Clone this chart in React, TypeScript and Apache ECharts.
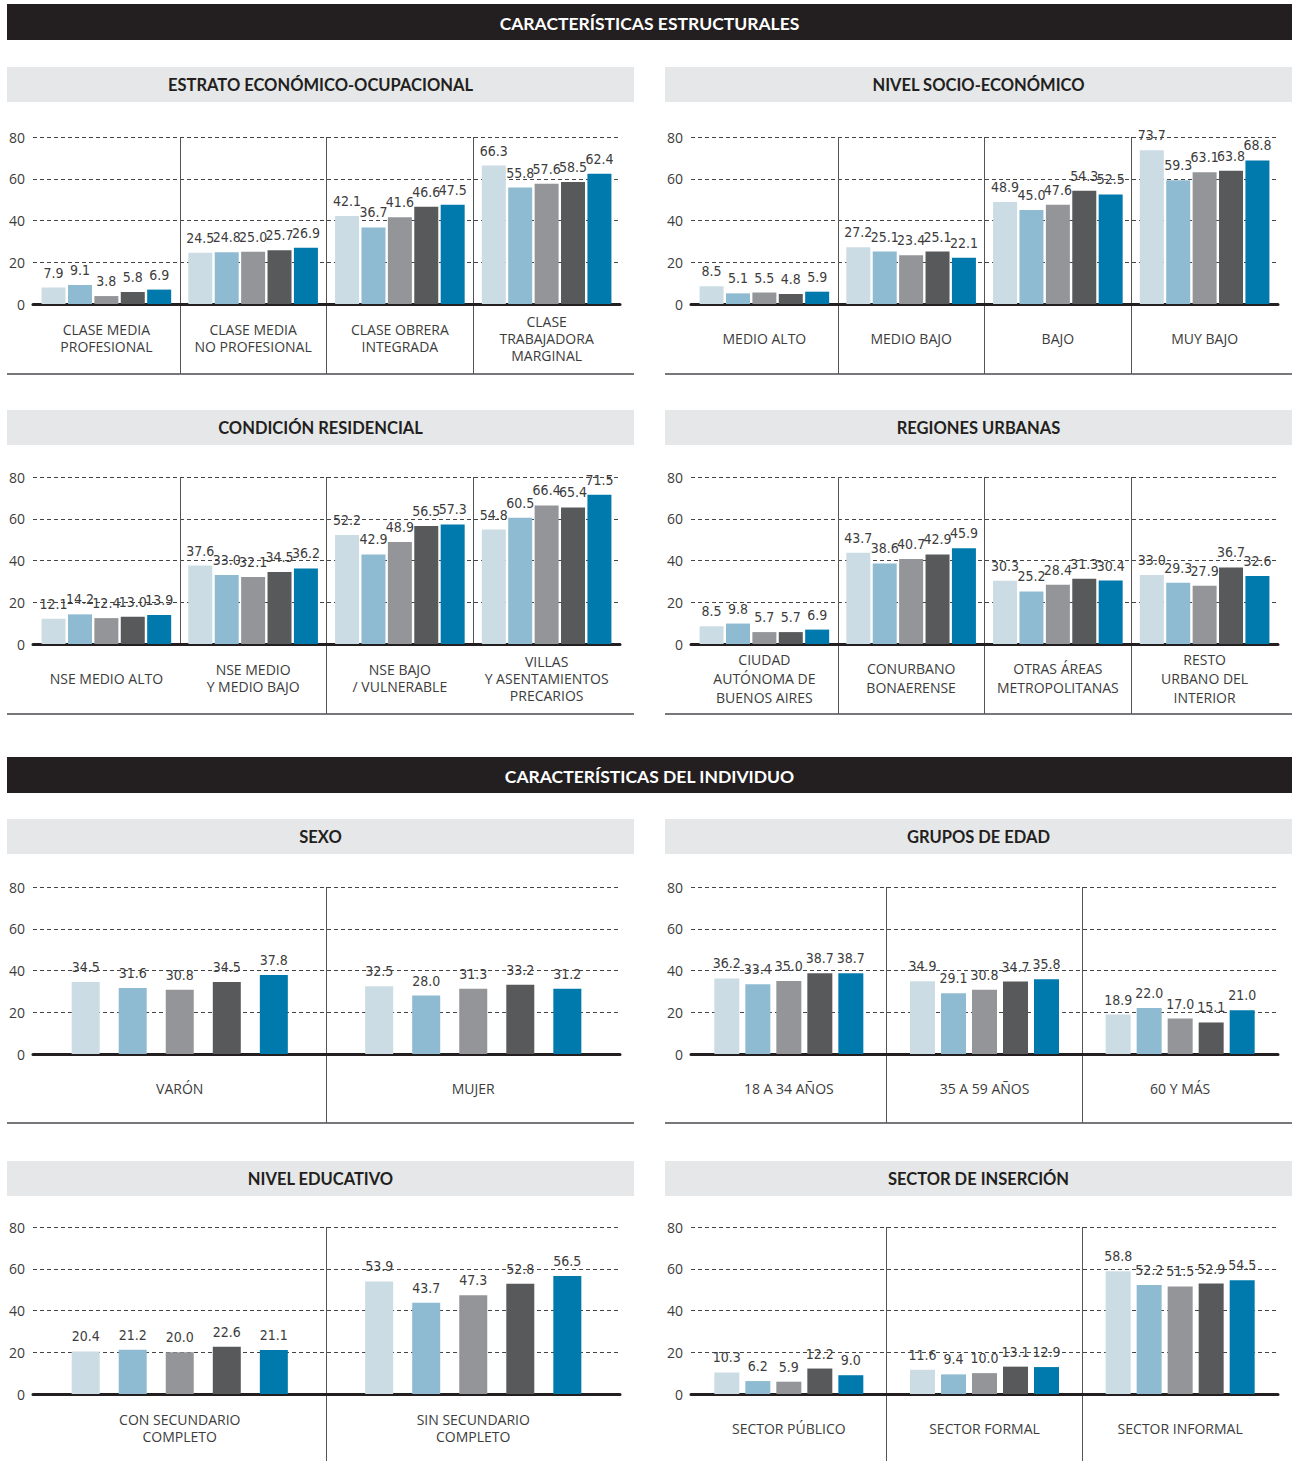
import { useEffect, useRef } from "react";
import * as echarts from "echarts";

// ---------- DATA ----------
const seriesNames = ["Serie 1", "Serie 2", "Serie 3", "Serie 4", "Serie 5"];
const seriesColors = ["#cbdce5", "#8ebbd1", "#939598", "#58595b", "#0079ac"];
const yTicks = [0, 20, 40, 60, 80];

const estratoCategories = ["CLASE MEDIA\nPROFESIONAL", "CLASE MEDIA\nNO PROFESIONAL", "CLASE OBRERA\nINTEGRADA", "CLASE\nTRABAJADORA\nMARGINAL"];
const estratoValues = [
  [7.9, 24.5, 42.1, 66.3],
  [9.1, 24.8, 36.7, 55.8],
  [3.8, 25.0, 41.6, 57.6],
  [5.8, 25.7, 46.6, 58.5],
  [6.9, 26.9, 47.5, 62.4],
];

const nseCategories = ["MEDIO ALTO", "MEDIO BAJO", "BAJO", "MUY BAJO"];
const nseValues = [
  [8.5, 27.2, 48.9, 73.7],
  [5.1, 25.1, 45.0, 59.3],
  [5.5, 23.4, 47.6, 63.1],
  [4.8, 25.1, 54.3, 63.8],
  [5.9, 22.1, 52.5, 68.8],
];

const residencialCategories = ["NSE MEDIO ALTO", "NSE MEDIO\nY MEDIO BAJO", "NSE BAJO\n/ VULNERABLE", "VILLAS\nY ASENTAMIENTOS\nPRECARIOS"];
const residencialValues = [
  [12.1, 37.6, 52.2, 54.8],
  [14.2, 33.0, 42.9, 60.5],
  [12.4, 32.1, 48.9, 66.4],
  [13.0, 34.5, 56.5, 65.4],
  [13.9, 36.2, 57.3, 71.5],
];

const regionesCategories = ["CIUDAD\nAUTÓNOMA DE\nBUENOS AIRES", "CONURBANO\nBONAERENSE", "OTRAS ÁREAS\nMETROPOLITANAS", "RESTO\nURBANO DEL\nINTERIOR"];
const regionesValues = [
  [8.5, 43.7, 30.3, 33.0],
  [9.8, 38.6, 25.2, 29.3],
  [5.7, 40.7, 28.4, 27.9],
  [5.7, 42.9, 31.3, 36.7],
  [6.9, 45.9, 30.4, 32.6],
];

const sexoCategories = ["VARÓN", "MUJER"];
const sexoValues = [
  [34.5, 32.5],
  [31.6, 28.0],
  [30.8, 31.3],
  [34.5, 33.2],
  [37.8, 31.2],
];

const edadCategories = ["18 A 34 AÑOS", "35 A 59 AÑOS", "60 Y MÁS"];
const edadValues = [
  [36.2, 34.9, 18.9],
  [33.4, 29.1, 22.0],
  [35.0, 30.8, 17.0],
  [38.7, 34.7, 15.1],
  [38.7, 35.8, 21.0],
];

const educativoCategories = ["CON SECUNDARIO\nCOMPLETO", "SIN SECUNDARIO\nCOMPLETO"];
const educativoValues = [
  [20.4, 53.9],
  [21.2, 43.7],
  [20.0, 47.3],
  [22.6, 52.8],
  [21.1, 56.5],
];

const sectorCategories = ["SECTOR PÚBLICO", "SECTOR FORMAL", "SECTOR INFORMAL"];
const sectorValues = [
  [10.3, 11.6, 58.8],
  [6.2, 9.4, 52.2],
  [5.9, 10.0, 51.5],
  [12.2, 13.1, 52.9],
  [9.0, 12.9, 54.5],
];

const sectionTitles = ["CARACTERÍSTICAS ESTRUCTURALES", "CARACTERÍSTICAS DEL INDIVIDUO"];

// ---------- LAYOUT ----------
const WIDTH = 1292;
const HEIGHT = 1461;
const ROW_TOP = [137, 477, 887, 1227];
const PLOT_H = 167;
const ROW_BOTTOM = [374, 714, 1123, 1461];
const TITLE_TOP = [67, 410, 819, 1161];
const SECTION_TOP = [4, 757];
const SIDES: any = {
  L: { panelX: 7, panelW: 627, gridL: 33, gridR: 620 },
  R: { panelX: 665, panelW: 627, gridL: 691, gridR: 1278 },
};

const panels = [
  { title: "ESTRATO ECONÓMICO-OCUPACIONAL", cats: estratoCategories, vals: estratoValues, side: "L", row: 0, bw: 24, gap: "10%", lh: 17 },
  { title: "NIVEL SOCIO-ECONÓMICO", cats: nseCategories, vals: nseValues, side: "R", row: 0, bw: 24, gap: "10%", lh: 17 },
  { title: "CONDICIÓN RESIDENCIAL", cats: residencialCategories, vals: residencialValues, side: "L", row: 1, bw: 24, gap: "10%", lh: 17 },
  { title: "REGIONES URBANAS", cats: regionesCategories, vals: regionesValues, side: "R", row: 1, bw: 24, gap: "10%", lh: 19 },
  { title: "SEXO", cats: sexoCategories, vals: sexoValues, side: "L", row: 2, bw: 28, gap: "68%", lh: 17 },
  { title: "GRUPOS DE EDAD", cats: edadCategories, vals: edadValues, side: "R", row: 2, bw: 25, gap: "24%", lh: 17 },
  { title: "NIVEL EDUCATIVO", cats: educativoCategories, vals: educativoValues, side: "L", row: 3, bw: 28, gap: "68%", lh: 17 },
  { title: "SECTOR DE INSERCIÓN", cats: sectorCategories, vals: sectorValues, side: "R", row: 3, bw: 25, gap: "24%", lh: 17 },
];

const SANS = "'Open Sans', 'Noto Sans', sans-serif";
const TITLE_FONT = "Lato, 'Open Sans', sans-serif";
const NARROW = "'Liberation Sans Narrow', 'DejaVu Sans Condensed', sans-serif";
const TEXT = "#3c3c3c";
const SEP = "#555555";

function buildOption() {
  const grid: any[] = [];
  const xAxis: any[] = [];
  const yAxis: any[] = [];
  const series: any[] = [];
  const graphic: any[] = [];

  sectionTitles.forEach((t, i) => {
    graphic.push({ type: "rect", shape: { x: 7, y: SECTION_TOP[i], width: WIDTH - 7, height: 36 }, style: { fill: "#231f20" } });
    graphic.push({
      type: "text", x: (7 + WIDTH) / 2, y: SECTION_TOP[i] + 19,
      style: { text: t, fill: "#ffffff", font: `bold 17.5px ${TITLE_FONT}`, align: "center", verticalAlign: "middle" },
    });
  });

  panels.forEach((p, i) => {
    const s = SIDES[p.side];
    const top = ROW_TOP[p.row];
    const base = top + PLOT_H;
    const w = s.gridR - s.gridL;
    grid.push({ left: s.gridL, top, width: w, height: PLOT_H });
    grid.push({ left: s.gridL, top: base, width: w, height: ROW_BOTTOM[p.row] - base });

    const splitLine = { show: true, showMinLine: false, showMaxLine: false, lineStyle: { color: SEP, width: 1 } };
    xAxis.push({
      gridIndex: 2 * i, type: "category", data: p.cats,
      axisLine: { show: true, onZero: true, lineStyle: { color: "#231f20", width: 3 } },
      axisTick: { show: false },
      axisLabel: { interval: 0, margin: 34, verticalAlign: "middle", align: "center", fontSize: 14, lineHeight: p.lh, color: TEXT, fontFamily: SANS },
      splitLine, z: 3,
    });
    xAxis.push({
      gridIndex: 2 * i + 1, type: "category", data: p.cats,
      axisLine: { show: false }, axisTick: { show: false }, axisLabel: { show: false }, splitLine,
    });
    yAxis.push({
      gridIndex: 2 * i, type: "value", min: yTicks[0], max: yTicks[yTicks.length - 1], interval: yTicks[1] - yTicks[0],
      axisLine: { show: false }, axisTick: { show: false },
      axisLabel: { fontSize: 14, color: TEXT, margin: 8, fontFamily: SANS },
      splitLine: { show: true, lineStyle: { color: "#444", width: 1, type: [4, 3] } },
    });
    yAxis.push({ gridIndex: 2 * i + 1, type: "value", min: 0, max: 1, show: false });

    p.vals.forEach((vals, k) => {
      series.push({
        type: "bar", name: seriesNames[k], xAxisIndex: 2 * i, yAxisIndex: 2 * i, data: vals,
        barWidth: p.bw, barGap: p.gap,
        itemStyle: { color: seriesColors[k] },
        label: {
          show: true, position: "top", distance: 8, fontSize: 14, color: TEXT, fontFamily: NARROW,
          formatter: (d: any) => Number(d.value).toFixed(1),
        },
        z: 4,
      });
    });

    graphic.push({ type: "rect", shape: { x: s.panelX, y: TITLE_TOP[p.row], width: s.panelW, height: 35 }, style: { fill: "#e6e7e8" } });
    graphic.push({
      type: "text", x: s.panelX + s.panelW / 2, y: TITLE_TOP[p.row] + 18,
      style: { text: p.title, fill: "#231f20", font: `bold 16.5px ${TITLE_FONT}`, align: "center", verticalAlign: "middle" },
    });
    if (p.row < 3) {
      graphic.push({
        type: "line", shape: { x1: s.panelX, y1: ROW_BOTTOM[p.row], x2: s.panelX + s.panelW, y2: ROW_BOTTOM[p.row] },
        style: { stroke: "#77787b", lineWidth: 2 },
      });
    }
  });

  return { animation: false, backgroundColor: "#ffffff", grid, xAxis, yAxis, series, graphic };
}

export default function App() {
  const ref = useRef<HTMLDivElement>(null);
  useEffect(() => {
    document.body.style.margin = "0";
    if (!ref.current) return;
    const chart = echarts.init(ref.current, null, { renderer: "svg" });
    chart.setOption(buildOption());
    return () => chart.dispose();
  }, []);
  return <div ref={ref} style={{ width: WIDTH, height: HEIGHT }} />;
}
